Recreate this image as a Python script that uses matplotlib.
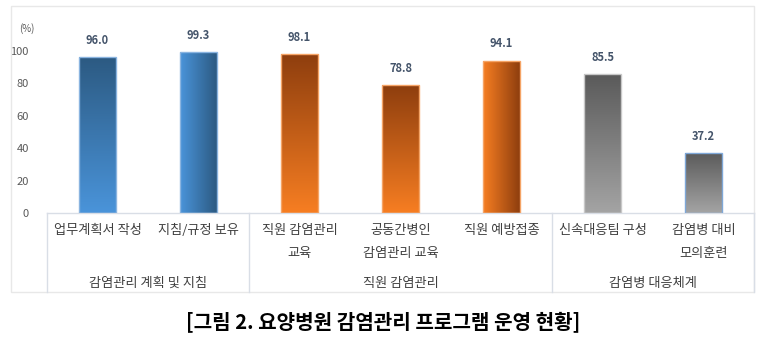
import matplotlib
matplotlib.use("Agg")
import matplotlib.pyplot as plt
import numpy as np
from matplotlib.colors import LinearSegmentedColormap
from matplotlib.patches import Rectangle
from matplotlib.lines import Line2D

plt.rcParams['font.family'] = ['Noto Sans CJK KR', 'DejaVu Sans']

# ---- data ----
categories = ["업무계획서 작성", "지침/규정 보유", "직원 감염관리\n교육",
              "공동간병인\n감염관리 교육", "직원 예방접종", "신속대응팀 구성",
              "감염병 대비\n모의훈련"]
values = [96.0, 99.3, 98.1, 78.8, 94.1, 85.5, 37.2]
groups = ["감염관리 계획 및 지침", "직원 감염관리", "감염병 대응체계"]
group_sizes = [2, 3, 2]
yticks = [0, 20, 40, 60, 80, 100]
title = "[그림 2. 요양병원 감염관리 프로그램 운영 현황]"

# ---- styles ----
blue = ("#2C5A82", "#4A94DA", "#8AB4E0")
orange = ("#8E3E0E", "#F77E22", "#F5A466")
gray = ("#5A5A5A", "#A4A4A4", "#C8C8C8")
bar_styles = [blue, blue, orange, orange, orange, gray, gray]
edge_override = [None, None, None, None, None, None, "#7FA8D8"]
direction = ["v", "h", "v", "v", "h", "v", "v"]

W, H = 766, 339
fig = plt.figure(figsize=(W / 100, H / 100), dpi=100)

def fx(px):
    return px / W

def fy(py):
    return 1 - py / H

ax_left, ax_right, ax_bottom, ax_top = 47, 754, 213, 18.6
ax = fig.add_axes([fx(ax_left), fy(ax_bottom), fx(ax_right - ax_left), fy(ax_top) - fy(ax_bottom)])

# outer frame
fig.patches.append(Rectangle((fx(11), fy(292)), fx(754 - 11), fy(6) - fy(292),
                             transform=fig.transFigure, fill=False,
                             edgecolor="#E8E8E8", linewidth=1.0, zorder=0))

x = np.arange(len(values))
bars = ax.bar(x, values, width=0.36, color="none", zorder=2)
ax.set_xlim(-0.5, len(values) - 0.5)
ax.set_ylim(0, 120)

for i, (b, st) in enumerate(zip(bars, bar_styles)):
    dark, light, edge = st
    cmap = LinearSegmentedColormap.from_list("g%d" % i, [light, dark])
    if direction[i] == "v":
        grad = np.linspace(0, 1, 256).reshape(-1, 1)
    else:
        grad = np.linspace(0, 1, 256).reshape(1, -1)
    x0, w, h = b.get_x(), b.get_width(), b.get_height()
    im = ax.imshow(grad, cmap=cmap, extent=[x0, x0 + w, 0, h], origin="lower",
                   aspect="auto", zorder=2, interpolation="bicubic")
    im.set_clip_path(b)
    ec = edge_override[i] if edge_override[i] else edge
    ax.add_patch(Rectangle((x0, 0), w, h, fill=False, edgecolor=ec, linewidth=1.0, zorder=3))
    ax.annotate("%.1f" % values[i], (x[i], h), xytext=(0, 12), textcoords="offset points",
                ha="center", va="center", fontsize=8, fontweight="bold", color="#44546A")

ax.set_xlim(-0.5, len(values) - 0.5)
ax.set_yticks(yticks)
ax.set_yticklabels([str(t) for t in yticks], fontsize=8, color="#595959")
ax.tick_params(axis="y", length=0, pad=13)
ax.set_xticks([])
for s in ["top", "right", "left"]:
    ax.spines[s].set_visible(False)
ax.spines["bottom"].set_color("#D9DEE6")
ax.spines["bottom"].set_linewidth(1.0)

fig.text(fx(27), fy(29), "(%)", fontsize=7, color="#595959", ha="center", va="center")

# category labels
for i, c in enumerate(categories):
    xd = ax.transData.transform((x[i], 0))[0] / (W)
    fig.text(xd, fy(224), c, ha="center", va="top", fontsize=9.5, color="#404040",
             linespacing=1.95, multialignment="center")

# group separators and labels
bounds = [-0.5]
for gs in group_sizes:
    bounds.append(bounds[-1] + gs)
for bx in bounds:
    xf = ax.transData.transform((bx, 0))[0] / W
    fig.add_artist(Line2D([xf, xf], [fy(213), fy(292)], transform=fig.transFigure,
                          color="#D9DEE6", linewidth=1.0))
for gi, g in enumerate(groups):
    cx = (bounds[gi] + bounds[gi + 1]) / 2
    xf = ax.transData.transform((cx, 0))[0] / W
    fig.text(xf, fy(283), g, ha="center", va="center", fontsize=9.5, color="#404040")

fig.text(fx(383), fy(322), title, ha="center", va="center", fontsize=14.5,
         fontweight="bold", color="black")

fig.savefig("out.png", dpi=100)
